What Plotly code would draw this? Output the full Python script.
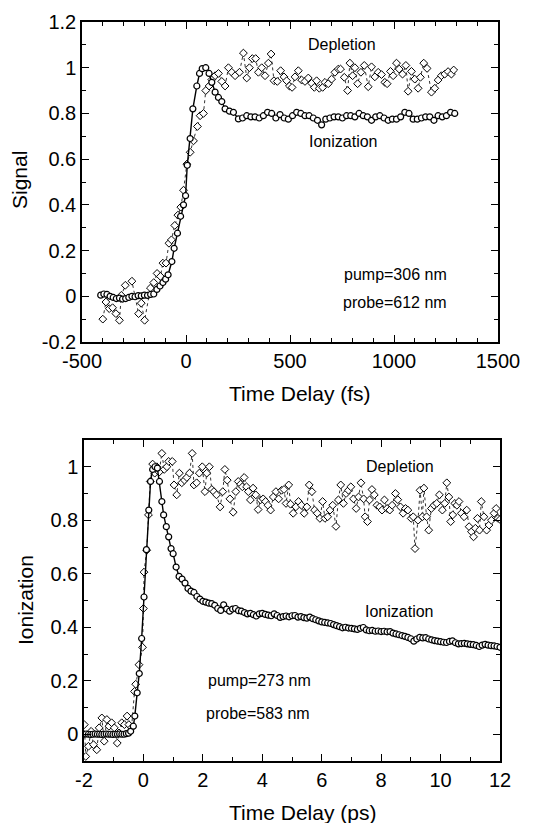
import plotly.graph_objects as go

# ---------------- Top panel data (fs) ----------------
top_ion_t = [-410, -395, -380, -365, -350, -335, -320, -305, -290, -275, -260, -245, -230, -215, -200, -185, -170, -155,
             -140, -125, -111, -98, -86, -68, -57, -41, -26, -12, -2, 6, 20, 33, 52, 65, 78, 95, 111, 124, 140, 156, 172,
             188, 209, 228, 252,
             272, 292, 312, 332, 352, 372, 392, 412, 432, 452, 472, 492, 512, 532, 552, 572, 592, 612, 632, 652, 672,
             692, 712, 732, 752, 772, 792, 812, 832, 852, 872, 892, 912, 932, 952, 972, 992, 1012, 1032, 1052, 1072,
             1092, 1112, 1132, 1152, 1172, 1192, 1212, 1232, 1252, 1272, 1292]
top_ion_v = [0.005, 0.01, 0.008, 0.0, -0.005, -0.01, -0.008, -0.012, -0.01, -0.005, 0.0, -0.002, 0.003, 0.002, 0.005,
             0.004, 0.008, 0.01,
             0.03, 0.045, 0.06, 0.075, 0.094, 0.152, 0.21, 0.276, 0.35, 0.40, 0.44, 0.573, 0.69, 0.82, 0.92, 0.975,
             0.996, 1.0, 0.975, 0.936, 0.893, 0.87, 0.852, 0.82, 0.81, 0.805, 0.776,
             0.78, 0.79, 0.785, 0.785, 0.78, 0.79, 0.805, 0.80, 0.78, 0.795, 0.78, 0.775, 0.79, 0.805, 0.80, 0.79,
             0.79, 0.78, 0.77, 0.75, 0.775, 0.78, 0.785, 0.785, 0.78, 0.79, 0.79, 0.785, 0.80, 0.79, 0.785, 0.77,
             0.785, 0.79, 0.78, 0.77, 0.775, 0.775, 0.785, 0.805, 0.80, 0.775, 0.775, 0.78, 0.785, 0.785, 0.77, 0.79,
             0.785, 0.79, 0.805, 0.80]

top_dep_t = [-400, -385, -369, -353, -337, -320, -311, -292, -260, -228, -215, -199, -171, -155, -139, -123, -111,
             -96, -82, -70, -54, -39, -25, -12, 4, 20, 36, 55, 68, 84, 95, 111, 124, 140, 156, 172, 188, 204, 220,
             236, 257, 276, 292, 305, 319, 335, 348, 364, 380, 396, 409, 423, 439, 455, 471, 484, 497, 510, 524, 540,
             556, 572, 588, 604, 617, 628, 641, 657, 668, 684, 700, 716, 732, 743, 761, 777, 788, 801, 812, 825, 841,
             857, 876, 892, 908, 924, 940, 956, 967, 983, 996, 1012, 1025, 1041, 1057, 1068, 1084, 1100, 1116, 1127,
             1143, 1159, 1180, 1196, 1212, 1228, 1244, 1260, 1276, 1287]
top_dep_v = [-0.10, -0.025, -0.054, -0.05, -0.076, -0.105, 0.004, 0.048, 0.066, -0.076, -0.03, -0.105, 0.036, 0.06,
             0.10, 0.087, 0.145, 0.145, 0.232, 0.247, 0.31, 0.355, 0.39, 0.464, 0.578, 0.63, 0.68, 0.743, 0.79, 0.80,
             0.90, 0.92, 0.948, 0.965, 0.975, 0.94, 0.92, 1.0, 0.98, 0.965, 0.98, 1.064, 0.955, 1.0, 1.04, 1.04, 0.98,
             1.0, 0.965, 1.02, 1.06, 0.943, 0.94, 0.987, 0.96, 0.943, 0.92, 0.914, 0.96, 0.987, 0.946, 0.94, 0.955,
             0.932, 0.914, 0.943, 0.91, 0.914, 0.936, 0.93, 0.95, 0.98, 0.994, 0.994, 0.958, 0.90, 1.02, 0.965, 1.0,
             0.93, 0.98, 1.01, 0.917, 1.004, 0.96, 0.98, 0.97, 0.936, 0.93, 0.984, 0.965, 1.02, 0.994, 0.972, 1.01,
             0.897, 0.984, 0.95, 0.91, 0.958, 1.02, 0.997, 0.893, 0.91, 0.946, 0.965, 0.972, 0.983, 0.972, 0.99]

# ---------------- Bottom panel data (ps) ----------------
bot_ion_t = [-2.0, -1.925, -1.85, -1.775, -1.7, -1.625, -1.55, -1.475, -1.4, -1.325, -1.25, -1.175, -1.1, -1.025,
             -0.95, -0.875, -0.8, -0.725, -0.65, -0.575, -0.5,
             -0.43, -0.34, -0.29, -0.21, -0.14, -0.06, 0.02, 0.10, 0.18, 0.24, 0.31, 0.39, 0.47, 0.54, 0.62, 0.68,
             0.77, 0.85, 0.93,
             1.0, 1.1, 1.2, 1.3, 1.4, 1.5, 1.6, 1.7, 1.8, 1.9,
             2.0, 2.1, 2.2, 2.3, 2.4, 2.5, 2.6, 2.7, 2.8, 2.9,
             3.0, 3.1, 3.2, 3.3, 3.4, 3.5, 3.6, 3.7, 3.8, 3.9,
             4.0, 4.1, 4.2, 4.3, 4.4, 4.5, 4.6, 4.7, 4.8, 4.9,
             5.0, 5.1, 5.2, 5.3, 5.4, 5.5, 5.6, 5.7, 5.8, 5.9,
             6.0, 6.1, 6.2, 6.3, 6.4, 6.5, 6.6, 6.7, 6.8, 6.9,
             7.0, 7.1, 7.2, 7.3, 7.4, 7.5, 7.6, 7.7, 7.8, 7.9,
             8.0, 8.1, 8.2, 8.3, 8.4, 8.5, 8.6, 8.7, 8.8, 8.9,
             9.0, 9.1, 9.2, 9.3, 9.4, 9.5, 9.6, 9.7, 9.8, 9.9,
             10.0, 10.1, 10.2, 10.3, 10.4, 10.5, 10.6, 10.7, 10.8, 10.9,
             11.0, 11.1, 11.2, 11.3, 11.4, 11.5, 11.6, 11.7, 11.8, 11.9, 12.0]
bot_ion_v = [0.0, 0.001, 0.0, -0.001, 0.0, 0.001, 0.0, 0.0, -0.001, 0.0, 0.001, 0.0, 0.0, -0.001, 0.0, 0.0, 0.001,
             0.0, 0.0, 0.002, 0.004,
             0.011, 0.03, 0.068, 0.155, 0.227, 0.358, 0.513, 0.69, 0.838, 0.945, 0.99, 1.0, 0.995, 0.945, 0.87, 0.82,
             0.776, 0.738, 0.694,
             0.675, 0.625, 0.59, 0.58, 0.565, 0.545, 0.535, 0.53, 0.515, 0.505,
             0.497, 0.494, 0.49, 0.488, 0.482, 0.47, 0.463, 0.484, 0.468, 0.46,
             0.468, 0.47, 0.462, 0.46, 0.455, 0.45, 0.452, 0.447, 0.442, 0.45,
             0.452, 0.448, 0.445, 0.443, 0.45, 0.444, 0.437, 0.44, 0.442, 0.439,
             0.443, 0.444, 0.438, 0.44, 0.436, 0.434, 0.438, 0.432, 0.428, 0.424,
             0.42, 0.418, 0.416, 0.414, 0.41, 0.406, 0.402, 0.398, 0.40, 0.397,
             0.396, 0.394, 0.392, 0.396, 0.399, 0.39, 0.387, 0.388, 0.385, 0.386,
             0.384, 0.385, 0.383, 0.384, 0.378, 0.375, 0.372, 0.369, 0.366, 0.362,
             0.357, 0.348, 0.356, 0.362, 0.36, 0.361, 0.356, 0.353, 0.35, 0.348,
             0.346, 0.344, 0.343, 0.347, 0.349, 0.342, 0.338, 0.339, 0.34, 0.338,
             0.336, 0.335, 0.332, 0.328, 0.333, 0.336, 0.333, 0.331, 0.33, 0.328, 0.325]

bot_dep_t = [-1.99, -1.94, -1.85, -1.76, -1.68, -1.57, -1.49, -1.4, -1.32, -1.23, -1.16, -1.07, -0.98, -0.88, -0.82,
             -0.73, -0.64, -0.55, -0.49, -0.4, -0.3, -0.26, -0.15, -0.03, 0.0, 0.02, 0.11, 0.17, 0.23, 0.31, 0.38,
             0.45, 0.53, 0.62, 0.7, 0.79, 0.85, 0.97, 1.03, 1.12, 1.21, 1.29, 1.38, 1.46, 1.55, 1.64, 1.7, 1.79, 1.88,
             1.98, 2.07, 2.13, 2.22, 2.3, 2.37, 2.46, 2.58, 2.67, 2.74, 2.82, 2.91, 3.02, 3.11, 3.19, 3.27, 3.33, 3.39,
             3.47, 3.53, 3.6, 3.69, 3.78, 3.86, 3.94, 4.03, 4.11, 4.19, 4.28, 4.37, 4.46, 4.55, 4.65, 4.73, 4.8, 4.89,
             4.95, 5.04, 5.13, 5.22, 5.32, 5.41, 5.5, 5.58, 5.67, 5.76, 5.85, 5.94, 6.03, 6.11, 6.2, 6.28, 6.37, 6.48,
             6.56, 6.64, 6.73, 6.82, 6.9, 6.98, 7.07, 7.16, 7.24, 7.32, 7.41, 7.46, 7.54, 7.61, 7.69, 7.77, 7.86, 7.95,
             8.03, 8.11, 8.2, 8.29, 8.37, 8.48, 8.56, 8.65, 8.74, 8.82, 8.9, 9.01, 9.08, 9.14, 9.24, 9.31, 9.39, 9.44,
             9.53, 9.6, 9.69, 9.78, 9.87, 9.96, 10.06, 10.14, 10.21, 10.28, 10.34, 10.41, 10.48, 10.55, 10.62, 10.7,
             10.79, 10.88, 10.96, 11.04, 11.11, 11.17, 11.24, 11.31, 11.37, 11.46, 11.55, 11.63, 11.71, 11.8, 11.87,
             11.93, 12.0]
bot_dep_v = [0.036, -0.083, -0.045, 0.011, -0.039, -0.058, 0.024, 0.061, -0.026, 0.055, 0.03, 0.043, 0.024, -0.033,
             0.005, 0.043, 0.036, 0.068, 0.036, 0.024, 0.16, 0.187, 0.26, 0.325, 0.47, 0.606, 0.688, 0.82, 0.945, 1.01,
             0.976, 1.0, 0.98, 1.05, 0.99, 1.0, 1.02, 1.02, 0.932, 0.895, 0.976, 0.94, 0.95, 0.96, 0.976, 1.05, 0.932,
             0.94, 0.976, 1.0, 0.907, 0.976, 1.0, 0.915, 0.907, 0.895, 0.85, 0.907, 0.99, 0.95, 0.88, 0.83, 0.907,
             0.945, 0.935, 0.925, 0.96, 0.925, 0.907, 0.876, 0.92, 0.895, 0.84, 0.876, 0.88, 0.87, 0.856, 0.838, 0.887,
             0.907, 0.88, 0.912, 0.915, 0.863, 0.932, 0.86, 0.826, 0.85, 0.87, 0.856, 0.826, 0.85, 0.932, 0.907, 0.838,
             0.826, 0.807, 0.87, 0.807, 0.813, 0.838, 0.856, 0.777, 0.876, 0.932, 0.863, 0.9, 0.912, 0.925, 0.88, 0.844,
             0.887, 0.94, 0.88, 0.813, 0.795, 0.876, 0.915, 0.895, 0.856, 0.85, 0.838, 0.876, 0.844, 0.838, 0.856, 0.9,
             0.877, 0.85, 0.826, 0.844, 0.838, 0.807, 0.813, 0.694, 0.8, 0.912, 0.813, 0.92, 0.813, 0.763, 0.844,
             0.856, 0.863, 0.895, 0.838, 0.863, 0.94, 0.887, 0.795, 0.82, 0.863, 0.856, 0.87, 0.826, 0.813, 0.838,
             0.776, 0.757, 0.738, 0.77, 0.807, 0.763, 0.87, 0.813, 0.763, 0.782, 0.8, 0.826, 0.844, 0.807, 0.803]

# tick labels
top_x_ticks = [-500, 0, 500, 1000, 1500]
top_x_text = ["-500", "0", "500", "1000", "1500"]
top_y_ticks = [-0.2, 0, 0.2, 0.4, 0.6, 0.8, 1.0, 1.2]
top_y_text = ["-0.2", "0", "0.2", "0.4", "0.6", "0.8", "1", "1.2"]
bot_x_ticks = [-2, 0, 2, 4, 6, 8, 10, 12]
bot_x_text = ["-2", "0", "2", "4", "6", "8", "10", "12"]
bot_y_ticks = [0, 0.2, 0.4, 0.6, 0.8, 1.0]
bot_y_text = ["0", "0.2", "0.4", "0.6", "0.8", "1"]

W, H = 548, 823
FONT = "Arial, 'Liberation Sans', Helvetica, sans-serif"

fig = go.Figure()

dep_line = dict(color="#333333", width=1, dash="dot")
ion_line = dict(color="black", width=1.4)

fig.add_trace(go.Scatter(x=top_dep_t, y=top_dep_v, mode="lines+markers", line=dep_line,
                         marker=dict(symbol="diamond", size=6, color="white", line=dict(color="black", width=1)),
                         xaxis="x", yaxis="y", showlegend=False))
fig.add_trace(go.Scatter(x=top_ion_t, y=top_ion_v, mode="lines+markers", line=ion_line,
                         marker=dict(symbol="circle", size=6, color="white", line=dict(color="black", width=1.2)),
                         xaxis="x", yaxis="y", showlegend=False))
fig.add_trace(go.Scatter(x=bot_dep_t, y=bot_dep_v, mode="lines+markers", line=dep_line,
                         marker=dict(symbol="diamond", size=6, color="white", line=dict(color="black", width=1)),
                         xaxis="x2", yaxis="y2", showlegend=False))
fig.add_trace(go.Scatter(x=bot_ion_t, y=bot_ion_v, mode="lines+markers", line=ion_line,
                         marker=dict(symbol="circle", size=6, color="white", line=dict(color="black", width=1.2)),
                         xaxis="x2", yaxis="y2", showlegend=False))

def ax(domain, rng, tickvals, ticktext, minor_dtick, anchor):
    return dict(domain=domain, range=rng, tickvals=tickvals, ticktext=ticktext,
                ticks="inside", ticklen=7, tickwidth=1.2, tickcolor="black",
                minor=dict(dtick=minor_dtick, ticks="inside", ticklen=4, tickwidth=1, tickcolor="black",
                           showgrid=False),
                showline=True, linecolor="black", linewidth=1.5, mirror="allticks",
                showgrid=False, zeroline=False, anchor=anchor, automargin=False,
                tickfont=dict(family=FONT, size=20, color="black"))

fig.update_layout(
    width=W, height=H, margin=dict(l=0, r=0, t=0, b=0, autoexpand=False),
    paper_bgcolor="white", plot_bgcolor="white",
    xaxis=ax([82 / W, 498 / W], [-500, 1500], top_x_ticks, top_x_text, 100, "y"),
    yaxis=ax([1 - 342 / H, 1 - 22 / H], [-0.2, 1.2], top_y_ticks, top_y_text, 0.1, "x"),
    xaxis2=ax([84 / W, 500 / W], [-2, 12], bot_x_ticks, bot_x_text, 1, "y2"),
    yaxis2=ax([1 - 761 / H, 1 - 440 / H], [-0.1, 1.1], bot_y_ticks, bot_y_text, 0.1, "x2"),
)

def txt(x, y, s, size, angle=0):
    fig.add_annotation(x=x / W, y=1 - y / H, xref="paper", yref="paper", text=s, showarrow=False,
                       font=dict(family=FONT, size=size, color="black"), textangle=angle,
                       xanchor="center", yanchor="middle")

# axis titles
txt(19, 180, "Signal", 21, -90)
txt(300, 393, "Time Delay (fs)", 21)
txt(25, 600, "Ionization", 21, -90)
txt(302, 812, "Time Delay (ps)", 21)

# in-plot labels
txt(342, 44, "Depletion", 16)
txt(343, 141, "Ionization", 16)
txt(395, 274, "pump=306 nm", 16)
txt(395, 302, "probe=612 nm", 16)
txt(400, 467, "Depletion", 16)
txt(399, 611, "Ionization", 16)
txt(259, 680, "pump=273 nm", 16)
txt(258, 713, "probe=583 nm", 16)

fig.write_html("out.html")
